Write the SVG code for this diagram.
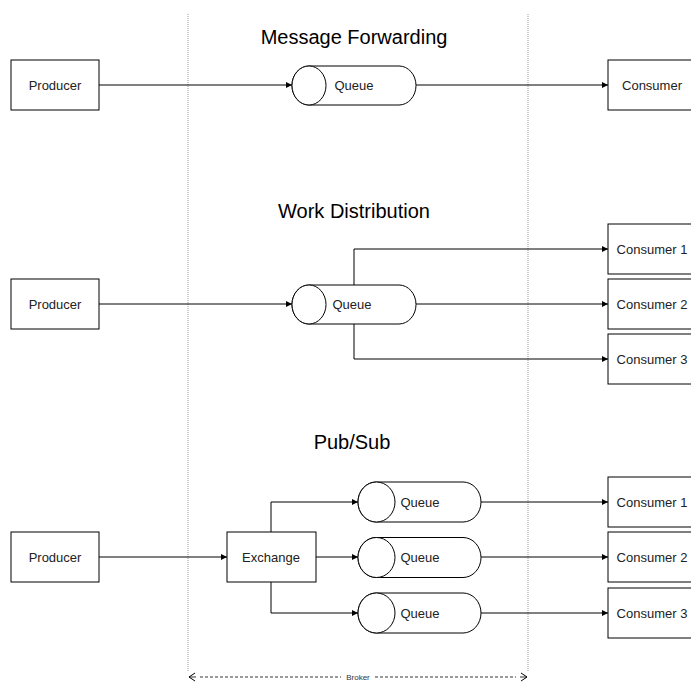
<svg xmlns="http://www.w3.org/2000/svg" width="691" height="682" viewBox="0 0 691 682">
<style>
.box{fill:#fff;stroke:#000;stroke-width:1}
.q{fill:#fff;stroke:#000;stroke-width:1}
.t{font-family:"Liberation Sans",Arial,sans-serif;font-size:13px;fill:#222;text-anchor:middle;dominant-baseline:central}
.title{font-family:"Liberation Sans",Arial,sans-serif;font-size:20px;fill:#000;text-anchor:middle}
.c{fill:none;stroke:#000;stroke-width:1}
.dot{fill:none;stroke:#999;stroke-width:1;stroke-dasharray:1,1}
</style>
<defs>
<marker id="ah" markerWidth="8" markerHeight="8" refX="7" refY="4" orient="auto" markerUnits="userSpaceOnUse">
<path d="M1,1 L7,4 L1,7 z" fill="#000"/>
</marker>
<marker id="oa" markerWidth="8" markerHeight="10" refX="7" refY="5" orient="auto" markerUnits="userSpaceOnUse">
<path d="M1,1 L7,5 L1,9" fill="none" stroke="#000" stroke-width="1"/>
</marker>
</defs>
<rect width="691" height="682" fill="#fff"/>
<g id="broker">
<line class="dot" x1="188" y1="14" x2="188" y2="672"/>
<line class="dot" x1="528" y1="14" x2="528" y2="672"/>
<line x1="200" y1="677" x2="341" y2="677" stroke="#000" stroke-width="0.8" stroke-dasharray="3,2"/>
<line x1="375" y1="677" x2="516" y2="677" stroke="#000" stroke-width="0.8" stroke-dasharray="3,2"/>
<line x1="196" y1="677" x2="189" y2="677" stroke="#000" stroke-width="0.8" marker-end="url(#oa)"/>
<line x1="520" y1="677" x2="527" y2="677" stroke="#000" stroke-width="0.8" marker-end="url(#oa)"/>
<text x="358" y="677" font-family="'Liberation Sans',Arial,sans-serif" font-size="8" fill="#333" text-anchor="middle" dominant-baseline="central">Broker</text>
</g>
<text class="title" x="354" y="44">Message Forwarding</text>
<text class="title" x="354" y="218">Work Distribution</text>
<text class="title" x="352" y="449">Pub/Sub</text>
<g id="connectors">
<line class="c" x1="99" y1="85" x2="292" y2="85" marker-end="url(#ah)"/>
<line class="c" x1="416" y1="85" x2="608" y2="85" marker-end="url(#ah)"/>
<line class="c" x1="99" y1="304" x2="292" y2="304" marker-end="url(#ah)"/>
<line class="c" x1="416" y1="304" x2="608" y2="304" marker-end="url(#ah)"/>
<polyline class="c" points="354,285 354,249 608,249" marker-end="url(#ah)"/>
<polyline class="c" points="354,324 354,359 608,359" marker-end="url(#ah)"/>
<line class="c" x1="99" y1="557" x2="227" y2="557" marker-end="url(#ah)"/>
<line class="c" x1="316" y1="557" x2="358" y2="557" marker-end="url(#ah)"/>
<polyline class="c" points="271,532 271,502 358,502" marker-end="url(#ah)"/>
<polyline class="c" points="271,582 271,613 358,613" marker-end="url(#ah)"/>
<line class="c" x1="481" y1="502" x2="608" y2="502" marker-end="url(#ah)"/>
<line class="c" x1="481" y1="557" x2="608" y2="557" marker-end="url(#ah)"/>
<line class="c" x1="481" y1="613" x2="608" y2="613" marker-end="url(#ah)"/>
</g>
<g id="producer1"><rect class="box" x="11" y="60" width="88" height="50"/><text class="t" x="55" y="85">Producer</text></g>
<g id="queue1"><path class="q" d="M309,66 L399,66 A17,19.5 0 0 1 399,105 L309,105 A17,19.5 0 0 1 309,66 z"/><ellipse class="q" cx="309" cy="85.5" rx="17" ry="19.5"/><text class="t" x="354" y="85">Queue</text></g>
<g id="consumer1"><rect class="box" x="608" y="60" width="88" height="50"/><text class="t" x="652" y="85">Consumer</text></g>

<g id="producer2"><rect class="box" x="11" y="279" width="88" height="50"/><text class="t" x="55" y="304">Producer</text></g>
<g id="queue2"><path class="q" d="M309,285 L399,285 A17,19.5 0 0 1 399,324 L309,324 A17,19.5 0 0 1 309,285 z"/><ellipse class="q" cx="309" cy="304.5" rx="17" ry="19.5"/><text class="t" x="352" y="304">Queue</text></g>
<g id="wd-consumer1"><rect class="box" x="608" y="224" width="88" height="50"/><text class="t" x="652" y="249">Consumer 1</text></g>
<g id="wd-consumer2"><rect class="box" x="608" y="279" width="88" height="50"/><text class="t" x="652" y="304">Consumer 2</text></g>
<g id="wd-consumer3"><rect class="box" x="608" y="334" width="88" height="50"/><text class="t" x="652" y="359">Consumer 3</text></g>

<g id="producer3"><rect class="box" x="11" y="532" width="88" height="50"/><text class="t" x="55" y="557">Producer</text></g>
<g id="exchange"><rect class="box" x="227" y="532" width="89" height="50"/><text class="t" x="271" y="557">Exchange</text></g>
<g id="ps-queue1"><path class="q" d="M376,482 L463,482 A18,20 0 0 1 463,522 L376,522 A18,20 0 0 1 376,482 z"/><ellipse class="q" cx="376.5" cy="502" rx="18.5" ry="20"/><text class="t" x="420" y="502">Queue</text></g>
<g id="ps-queue2"><path class="q" d="M376,537.5 L463,537.5 A18,20 0 0 1 463,577.5 L376,577.5 A18,20 0 0 1 376,537.5 z"/><ellipse class="q" cx="376.5" cy="557.5" rx="18.5" ry="20"/><text class="t" x="420" y="557">Queue</text></g>
<g id="ps-queue3"><path class="q" d="M376,593 L463,593 A18,20 0 0 1 463,633 L376,633 A18,20 0 0 1 376,593 z"/><ellipse class="q" cx="376.5" cy="613" rx="18.5" ry="20"/><text class="t" x="420" y="613">Queue</text></g>
<g id="ps-consumer1"><rect class="box" x="608" y="477" width="88" height="50"/><text class="t" x="652" y="502">Consumer 1</text></g>
<g id="ps-consumer2"><rect class="box" x="608" y="532" width="88" height="50"/><text class="t" x="652" y="557">Consumer 2</text></g>
<g id="ps-consumer3"><rect class="box" x="608" y="588" width="88" height="50"/><text class="t" x="652" y="613">Consumer 3</text></g>
</svg>
